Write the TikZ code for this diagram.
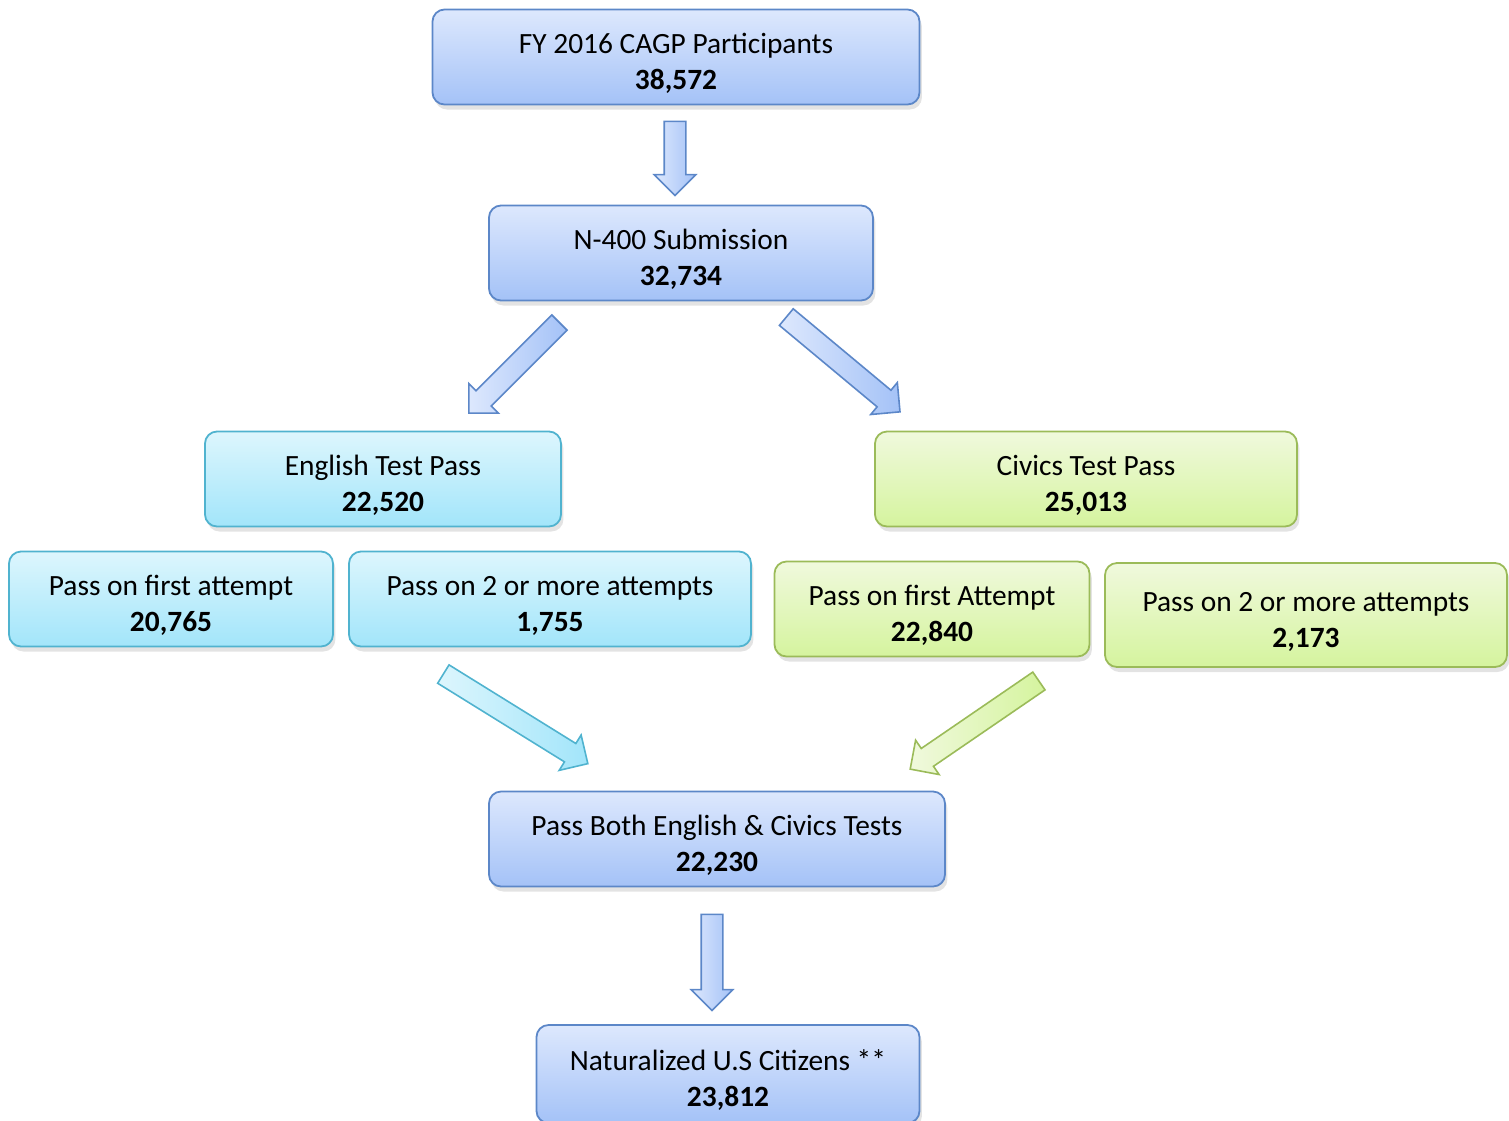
\documentclass[tikz,border=0pt]{standalone}
\usepackage{fontspec}
\setmainfont{Carlito}
\usetikzlibrary{shapes.arrows,shadows}
\definecolor{blueTop}{HTML}{DDE8FD}
\definecolor{blueBot}{HTML}{A4C2F7}
\definecolor{blueLine}{HTML}{5C87C8}
\definecolor{cyanTop}{HTML}{DDF6FD}
\definecolor{cyanBot}{HTML}{A2E5FA}
\definecolor{cyanLine}{HTML}{50B3CF}
\definecolor{greenTop}{HTML}{F0F9DD}
\definecolor{greenBot}{HTML}{D5F49E}
\definecolor{greenLine}{HTML}{9BBB59}
\tikzset{
  box/.style={rounded corners=6pt, line width=0.9pt, align=center, inner sep=0pt,
    minimum height=47.5pt, font=\fontsize{14.7}{18}\selectfont, text height=34pt,
    drop shadow={opacity=0.22, shadow xshift=1.2pt, shadow yshift=-2.5pt}},
  bluebox/.style={box, draw=blueLine, top color=blueTop, bottom color=blueBot},
  cyanbox/.style={box, draw=cyanLine, top color=cyanTop, bottom color=cyanBot},
  greenbox/.style={box, draw=greenLine, top color=greenTop, bottom color=greenBot},
  barrow/.style={single arrow, single arrow head extend=5pt, inner sep=5pt,
    line width=0.8pt, minimum height=#1},
  bluearrow/.style={barrow=#1, draw=blueLine, left color=blueTop, right color=blueBot},
  cyanarrow/.style={barrow=#1, draw=cyanLine, left color=cyanTop, right color=cyanBot},
  greenarrow/.style={barrow=#1, draw=greenLine, left color=greenTop, right color=greenBot},
}
\begin{document}
\begin{tikzpicture}[x=0.5pt, y=-0.5pt]
  \useasboundingbox (0,0) rectangle (1509,1120);
  % boxes
  \node[bluebox, minimum width=243.5pt] (cagp) at (676,57) {FY 2016 CAGP Participants\\\textbf{38,572}};
  \node[bluebox, minimum width=192pt] (nform) at (681,253) {N-400 Submission\\\textbf{32,734}};
  \node[cyanbox, minimum width=178pt] (eng) at (383,479) {English Test Pass\\\textbf{22,520}};
  \node[greenbox, minimum width=211pt] (civ) at (1086,479) {Civics Test Pass\\\textbf{25,013}};
  \node[cyanbox, minimum width=162pt] (engone) at (171,599) {Pass on first attempt\\\textbf{20,765}};
  \node[cyanbox, minimum width=201pt] (engtwo) at (550,599) {Pass on 2 or more attempts\\\textbf{1,755}};
  \node[greenbox, minimum width=157.5pt] (civone) at (932,609) {Pass on first Attempt\\\textbf{22,840}};
  \node[greenbox, minimum width=201pt, minimum height=52pt] (civtwo) at (1306,615) {Pass on 2 or more attempts\\\textbf{2,173}};
  \node[bluebox, minimum width=228pt] (both) at (717,839) {Pass Both English \& Civics Tests\\\textbf{22,230}};
  \node[bluebox, minimum width=191.5pt, minimum height=49pt] (natz) at (728,1074) {Naturalized U.S Citizens **\\\textbf{23,812}};
  % block arrows
  \node[bluearrow=37pt, rotate=-90] (arone) at (675,153) {};
  \node[bluearrow=64pt, rotate=225] (artwo) at (518,364) {};
  \node[bluearrow=74pt, rotate=-39.8] (arthree) at (839,361) {};
  \node[cyanarrow=85pt, rotate=-31.8] (arfour) at (511,716) {};
  \node[greenarrow=78pt, rotate=214.4] (arfive) at (979,722) {};
  \node[bluearrow=48pt, rotate=-90] (arsix) at (712,957) {};
\end{tikzpicture}
\end{document}
